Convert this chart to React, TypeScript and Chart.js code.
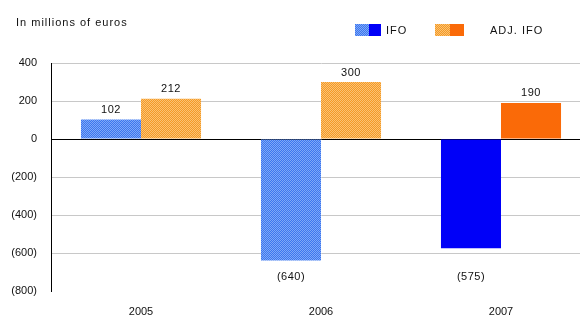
import React, { useEffect, useRef } from "react";
import { Chart, registerables } from "chart.js";

Chart.register(...registerables);

const categories = ["2005", "2006", "2007"];
const ifoValues = [102, -640, -575];
const adjIfoValues = [212, 300, 190];
const seriesNames = ["IFO", "ADJ. IFO"];
const unitLabel = "In millions of euros";
const yTicks = { min: -800, max: 400, step: 200 };

const FONT = '"Liberation Sans", Arial, sans-serif';

function makePattern(c1: string, c2: string): CanvasPattern | string {
  const p = document.createElement("canvas");
  p.width = 2;
  p.height = 2;
  const ctx = p.getContext("2d");
  if (!ctx) return c1;
  ctx.fillStyle = c1;
  ctx.fillRect(0, 0, 2, 2);
  ctx.fillStyle = c2;
  ctx.fillRect(0, 0, 1, 1);
  ctx.fillRect(1, 1, 1, 1);
  const pat = ctx.createPattern(p, "repeat");
  return pat || c1;
}

function fmt(v: number): string {
  return v < 0 ? `(${Math.abs(v)})` : `${v}`;
}

export default function App() {
  const ref = useRef<HTMLCanvasElement | null>(null);

  useEffect(() => {
    const canvas = ref.current;
    if (!canvas) return;
    document.body.style.overflow = "hidden";

    const bluePat = makePattern("#3c76ee", "#7ea8f8");
    const orangePat = makePattern("#f49a26", "#fbc274");
    const blueSolid = "#0000f8";
    const orangeSolid = "#fa6a08";

    const ifoColors = ifoValues.map((_, i) => (i === ifoValues.length - 1 ? blueSolid : bluePat));
    const adjColors = adjIfoValues.map((_, i) => (i === adjIfoValues.length - 1 ? orangeSolid : orangePat));

    const overlay = {
      id: "overlay",
      afterDatasetsDraw(chart: any) {
        const ctx = chart.ctx as CanvasRenderingContext2D;
        const area = chart.chartArea;
        ctx.save();
        ctx.fillStyle = "#111";
        ctx.font = `11px ${FONT}`;
        (ctx as any).letterSpacing = "0.5px";
        ctx.textAlign = "center";
        chart.data.datasets.forEach((ds: any, di: number) => {
          const meta = chart.getDatasetMeta(di);
          meta.data.forEach((bar: any, i: number) => {
            const v = ds.data[i] as number;
            if (v >= 0) {
              ctx.textBaseline = "bottom";
              ctx.fillText(fmt(v), bar.x, bar.y - 4);
            } else {
              ctx.textBaseline = "middle";
              ctx.fillText(fmt(v), bar.x, area.bottom - 14);
            }
          });
        });

        // unit title
        ctx.textAlign = "left";
        ctx.textBaseline = "middle";
        ctx.font = `11px ${FONT}`;
        (ctx as any).letterSpacing = "1px";
        ctx.fillText(unitLabel, 16, 23);

        // legend
        const drawSwatch = (x: number, pat: any, solid: string, wHatch: number, wSolid: number) => {
          ctx.fillStyle = pat;
          ctx.fillRect(x, 24, wHatch, 12);
          ctx.fillStyle = solid;
          ctx.fillRect(x + wHatch, 24, wSolid, 12);
        };
        drawSwatch(355, bluePat, blueSolid, 14, 12);
        drawSwatch(435, orangePat, orangeSolid, 15, 14);
        ctx.fillStyle = "#111";
        ctx.fillText(seriesNames[0], 386, 31);
        ctx.fillText(seriesNames[1], 490, 31);
        ctx.restore();
      },
    };

    const chart = new Chart(canvas, {
      type: "bar",
      data: {
        labels: categories,
        datasets: [
          { label: seriesNames[0], data: ifoValues, backgroundColor: ifoColors as any, borderWidth: 0 },
          { label: seriesNames[1], data: adjIfoValues, backgroundColor: adjColors as any, borderWidth: 0 },
        ],
      },
      options: {
        responsive: false,
        animation: false,
        devicePixelRatio: 1,
        layout: { padding: { top: 63, right: 9, bottom: 0, left: 0 } },
        plugins: {
          legend: { display: false },
          title: { display: false },
          tooltip: { enabled: false },
        },
        datasets: {
          bar: { barPercentage: 1, categoryPercentage: 0.667 },
        },
        scales: {
          x: {
            grid: { display: false, drawTicks: false },
            border: { display: false },
            ticks: { color: "#111", font: { family: FONT, size: 11 }, padding: 14 },
            afterFit(scale: any) {
              scale.height = 29;
            },
          },
          y: {
            min: yTicks.min,
            max: yTicks.max,
            ticks: {
              stepSize: yTicks.step,
              color: "#111",
              font: { family: FONT, size: 11 },
              padding: 14,
              callback: (v: any) => fmt(Number(v)),
            },
            grid: {
              drawTicks: false,
              color: (c: any) => {
                const v = c.tick ? c.tick.value : null;
                if (v === 0) return "#000";
                if (v === yTicks.min) return "rgba(0,0,0,0)";
                return "#c8c8c8";
              },
              lineWidth: 1,
            },
            border: { display: true, color: "#000", width: 1 },
            afterFit(scale: any) {
              scale.width = 51;
            },
          },
        },
      },
      plugins: [overlay],
    });

    return () => chart.destroy();
  }, []);

  return (
    <div style={{ position: "fixed", left: 0, top: 0, width: 600, height: 320, background: "#fff" }}>
      <canvas ref={ref} width={600} height={320} style={{ display: "block" }} />
    </div>
  );
}
